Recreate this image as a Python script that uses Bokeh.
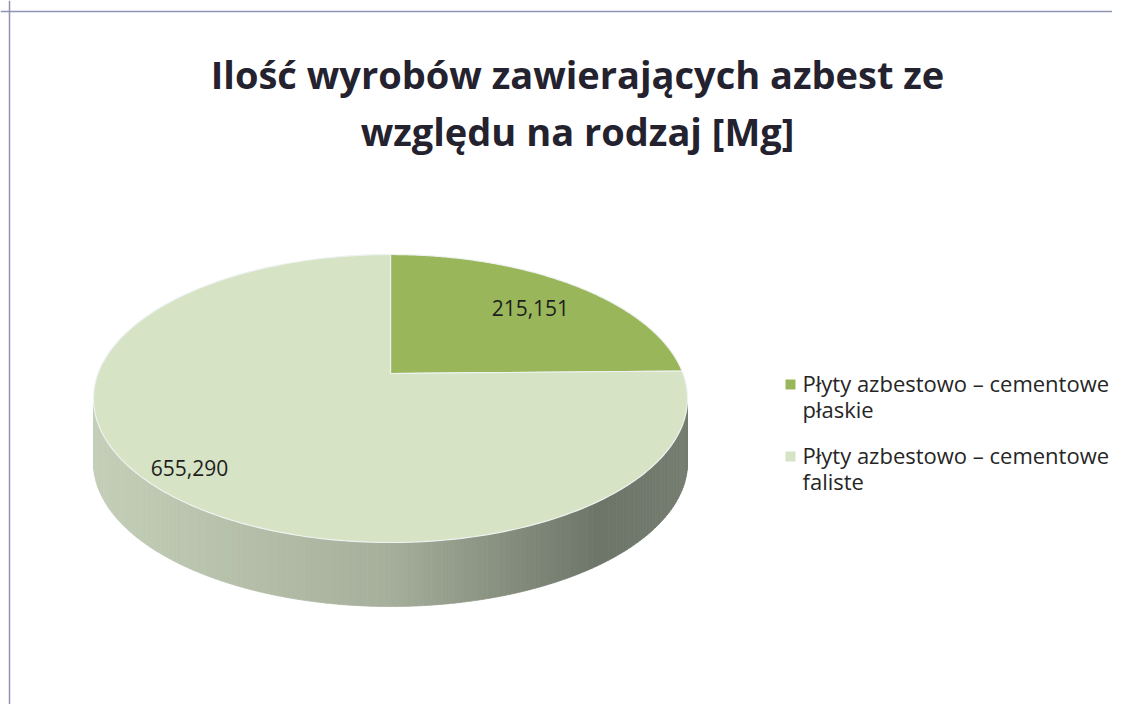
import numpy as np
from bokeh.plotting import figure
from bokeh.models import Range1d, Span
from bokeh.core.properties import value
from bokeh.embed import file_html
from bokeh.resources import INLINE

# ---------------- data ----------------
title_lines = ["Ilość wyrobów zawierających azbest ze", "względu na rodzaj [Mg]"]
categories = ["Płyty azbestowo – cementowe\npłaskie", "Płyty azbestowo – cementowe\nfaliste"]
values = [215.151, 655.290]
value_labels = ["215,151", "655,290"]

# ---------------- style ----------------
slice_colors = ["#9ab65a", "#d6e3c5"]
label_radius = [0.64, 0.92]
FONT = "Open Sans"
W, H = 1112, 704

# geometry of the tilted (3-D) pie, in picture pixels
cx, cy, a, b = 390.0, 398.0, 297.0, 144.0
px, py = 390.0, 373.0          # projected pie centre
depth = 64.0

p = figure(width=W, height=H, output_backend="svg", toolbar_location=None,
           x_range=Range1d(0, W), y_range=Range1d(H, 0),
           min_border=0, outline_line_color=None)
p.axis.visible = False
p.xgrid.visible = False
p.ygrid.visible = False
p.background_fill_color = "white"
p.border_fill_color = "white"

p.add_layout(Span(location=11, dimension="width", line_color="#8e93b3", line_width=1.5))
p.add_layout(Span(location=9, dimension="height", line_color="#8e93b3", line_width=1.5))


def hit_t(phi):
    dx, dy = a * np.cos(phi), -b * np.sin(phi)
    ux, uy = (px - cx) / a, (py - cy) / b
    vx, vy = dx / a, dy / b
    A = vx * vx + vy * vy
    B = 2 * (ux * vx + uy * vy)
    C = ux * ux + uy * uy - 1
    s = (-B + np.sqrt(B * B - 4 * A * C)) / (2 * A)
    x, y = px + s * dx, py + s * dy
    return np.arctan2(-(y - cy) / b, (x - cx) / a)


def ell(t):
    return cx + a * np.cos(t), cy - b * np.sin(t)


total = sum(values)
fracs = [v / total for v in values]
start = np.pi / 2

# ---- side (walls) with shading ----
stops_u = [0.0, 0.5, 0.85, 1.0]
stops_c = [(196, 207, 184), (166, 175, 155), (108, 117, 104), (116, 125, 112)]


def shade(u):
    u = min(max(u, 0), 1)
    r = [np.interp(u, stops_u, [c[k] for c in stops_c]) for k in range(3)]
    return "#%02x%02x%02x" % tuple(int(round(v)) for v in r)


N = 160
ts = np.linspace(np.pi, 2 * np.pi, N + 1)
xs_side, ys_side, cols_side = [], [], []
for k in range(N):
    t0, t1 = ts[k], ts[k + 1]
    tt = np.linspace(t0, t1, 4)
    ex, ey = ell(tt)
    xs_side.append(list(ex) + list(ex[::-1]))
    ys_side.append(list(ey) + list((ey + depth)[::-1]))
    xm = ell((t0 + t1) / 2)[0]
    cols_side.append(shade((xm - (cx - a)) / (2 * a)))
p.patches(xs=xs_side, ys=ys_side, fill_color=cols_side, line_color=cols_side, line_width=0.8)

# ---- top face slices ----
phi = start
xs_top, ys_top, lab_x, lab_y = [], [], [], []
for i, f in enumerate(fracs):
    phi_end = phi - f * 2 * np.pi
    t_s, t_e = hit_t(phi), hit_t(phi_end)
    while t_e >= t_s - 1e-9:
        t_e -= 2 * np.pi
    tt = np.linspace(t_s, t_e, 200)
    ex, ey = ell(tt)
    xs_top.append([px] + list(ex))
    ys_top.append([py] + list(ey))
    mid = (phi + phi_end) / 2
    lab_x.append(px + label_radius[i] * a * np.cos(mid) * 1.05)
    lab_y.append(py - label_radius[i] * b * np.sin(mid))
    phi = phi_end

p.patches(xs=xs_top, ys=ys_top, fill_color=slice_colors, line_color="#eef3f2", line_width=1.2)

p.text(x=lab_x, y=lab_y, text=value_labels, text_font=value(FONT), text_font_size="21px",
       text_align="center", text_baseline="middle", text_color="#1e1e1e")

# ---- title ----
p.text(x=[577, 577], y=[73, 130], text=title_lines, text_font=value(FONT),
       text_font_size="38px", text_font_style="bold", text_align="center",
       text_baseline="alphabetic", text_color="#24222e")

# ---- legend ----
leg_y = [384, 456]
p.scatter(x=[790] * len(categories), y=leg_y, marker="square", size=10,
          fill_color=slice_colors, line_color=None)
p.text(x=[802] * len(categories), y=[y - 17 for y in leg_y], text=categories,
       text_font=value(FONT), text_font_size="22px", text_align="left",
       text_baseline="top", text_line_height=0.88, text_color="#262626")

open("out.html", "w").write(file_html(p, INLINE))
